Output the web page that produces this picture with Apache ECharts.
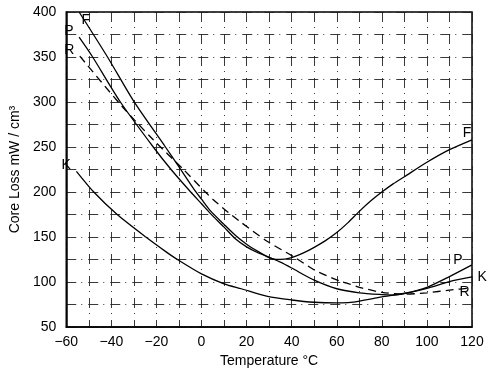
<!DOCTYPE html>
<html>
<head>
<meta charset="utf-8">
<script src="https://cdn.jsdelivr.net/npm/echarts@6/dist/echarts.min.js"></script>
<style>html,body{margin:0;padding:0;background:#fff}#c{width:493px;height:380px}</style>
</head>
<body>
<div id="c"></div>
<script>
// Temperature (°C) / core loss (mW/cm³) pairs
const curveF = [[-54.3,400],[-41.7,350],[-30.1,301],[-16,250],[-10,228],[-3.3,203],[0,192],[4,179],[10,164],[15,152],[20,142],[25,134],[30,127],[33,125],[37,125.5],[40,127],[45,132],[50,138.5],[55,146],[60,155],[65,166],[70,178.5],[75,190],[80,200],[85,209],[90,217],[100,233],[110,247],[120,258]];
const curveP = [[-54.3,372],[-48.3,350],[-36,300],[-21.4,250],[-13.5,225],[-4.8,200],[0,187],[4,176],[10,161],[15,148],[20,139],[25,132.5],[30,127.5],[35,122],[40,115.5],[50,102],[60,92.5],[70,88],[80,86],[85,85.5],[90,87],[100,94],[110,106],[120,119]];
const curveR = [[-54,351],[-35.2,295],[-21.4,258],[-8,225],[1.7,200],[5,192],[12,177],[17.7,166],[29.3,145],[40.9,128],[50.3,113],[58.3,104],[62,100.5],[66,97.5],[71,93.5],[80,88.5],[90,86.4],[100,88],[110,91],[120,93.5]];
const curveK = [[-55.5,223],[-47.8,200],[-37.4,175],[-24.7,150],[-15.7,133.5],[-11.3,126],[0,109],[10,98],[17.7,92.5],[29.3,84],[40,80],[50,77.5],[60,76.8],[66,77.3],[80,83.4],[90,87.5],[100,93],[110,100.5],[120,105.7]];
const seriesNames = ['F','P','R','K'];
const xTicks = [-60,-40,-20,0,20,40,60,80,100,120];
const yTicks = [50,100,150,200,250,300,350,400];

const FONT = '"Liberation Sans", Arial, sans-serif';
const labelStyle = {show:true, color:'#000', fontFamily:FONT, fontSize:14, formatter:'{a}'};

function mk(name, pts, dashed, firstLbl, lastLbl){
  const data = pts.map((p,i)=>{
    if(i===0) return {value:p, label:Object.assign({}, labelStyle, firstLbl)};
    if(i===pts.length-1) return {value:p, label:Object.assign({}, labelStyle, lastLbl)};
    return p;
  });
  return {
    name:name, type:'line', data:data, smooth:0.25,
    symbol:'circle', symbolSize:1, showSymbol:true, showAllSymbol:true, clip:false,
    label:{show:false},
    itemStyle:{color:'rgba(0,0,0,0)', borderWidth:0},
    lineStyle:{color:'#000', width:1.3, type: dashed ? [8,5] : 'solid'},
    emphasis:{disabled:true}
  };
}

const chart = echarts.init(document.getElementById('c'), null, {renderer:'canvas'});
const gridLine = {show:true, lineStyle:{color:'#222', width:0.9, type:[10,5,1,6]}};
chart.setOption({
  animation:false,
  backgroundColor:'#fff',
  grid:{left:58, right:21, top:12, bottom:53, show:true, borderColor:'#000', borderWidth:1.5, backgroundColor:'transparent'},
  xAxis:{
    type:'value', min:xTicks[0], max:xTicks[xTicks.length-1], interval:20,
    name:'Temperature °C', nameLocation:'middle', nameGap:24,
    nameTextStyle:{color:'#000', fontFamily:FONT, fontSize:14},
    axisLine:{show:true, onZero:false, lineStyle:{color:'#000', width:1.5}},
    axisTick:{show:false},
    axisLabel:{color:'#000', fontFamily:FONT, fontSize:14, margin:8,
      formatter:v=>String(v).replace('-','\u2212')},
    splitLine:gridLine,
    minorTick:{show:false, splitNumber:2},
    minorSplitLine:gridLine
  },
  yAxis:{
    type:'value', min:yTicks[0], max:yTicks[yTicks.length-1], interval:50,
    name:'Core Loss mW / cm³', nameLocation:'middle', nameGap:40, nameRotate:90,
    nameTextStyle:{color:'#000', fontFamily:FONT, fontSize:14},
    axisLine:{show:true, onZero:false, lineStyle:{color:'#000', width:1.5}},
    axisTick:{show:false},
    axisLabel:{color:'#000', fontFamily:FONT, fontSize:14, margin:10},
    splitLine:gridLine,
    minorTick:{show:false, splitNumber:2},
    minorSplitLine:gridLine
  },
  series:[
    mk(seriesNames[0], curveF, false, {position:'right', offset:[-3,8]}, {position:'top', offset:[-5,6]}),
    mk(seriesNames[1], curveP, false, {position:'left', offset:[0,-6]}, {position:'left', offset:[-4,-5]}),
    mk(seriesNames[2], curveR, true,  {position:'left', offset:[0,-6]}, {position:'left', offset:[3,4]}),
    mk(seriesNames[3], curveK, false, {position:'left', offset:[0,-6]}, {position:'right', offset:[0,0]})
  ]
});
</script>
</body>
</html>
